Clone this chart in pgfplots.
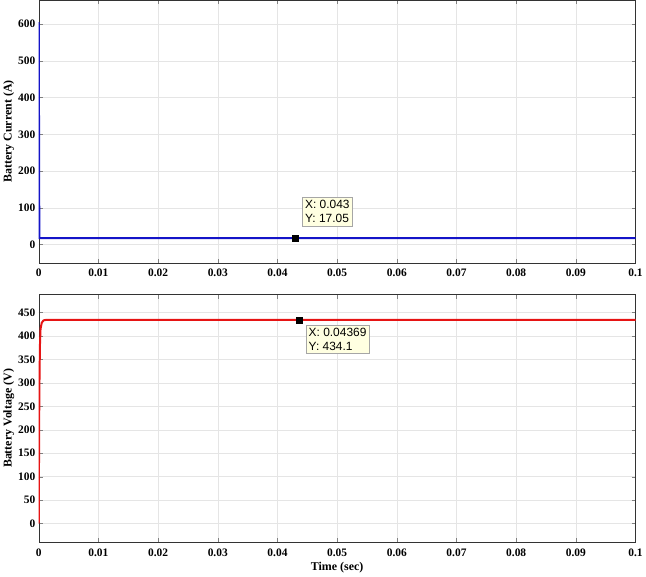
\documentclass[border=0pt]{standalone}
\usepackage{fontspec}
\setmainfont{Liberation Serif}
\newfontfamily\tipfont{Liberation Sans}
\usepackage{pgfplots}
\pgfplotsset{compat=1.18}

\definecolor{curblue}{RGB}{20,20,200}
\definecolor{voltred}{RGB}{230,20,20}
\definecolor{tipbg}{RGB}{255,255,225}

\pgfplotsset{
  panel/.style={
    scale only axis,
    width=600pt,
    xmin=0, xmax=0.1,
    xtick={0,0.01,...,0.1},
    xticklabels={0,0.01,0.02,0.03,0.04,0.05,0.06,0.07,0.08,0.09,0.1},
    tick align=inside,
    tick pos=both,
    major tick length=4pt,
    grid=major,
    grid style={gray!20},
    axis line style={black!80},
    tick label style={font=\fontsize{11.5}{13}\selectfont\bfseries},
    xticklabel style={yshift=-3pt},
    label style={font=\fontsize{12}{14}\selectfont\bfseries},
    /pgf/number format/assume math mode=true,
    ylabel shift=-3pt,
  },
}
\tikzset{
  tip/.style={draw=black!35, fill=tipbg, font=\tipfont\fontsize{12}{14}\selectfont,
    align=left, inner sep=3pt},
}

\begin{document}
\begin{tikzpicture}
\begin{axis}[panel, name=top, at={(0,0)}, anchor=north west,
  height=264pt,
  ymin=-50, ymax=665,
  ytick={0,100,...,600},
  ylabel={Battery Current (A)},
]
\addplot[curblue, line width=2pt] coordinates {
  (0,605) (0.0001,17.05) (0.02,17.05) (0.043,17.05) (0.07,17.05) (0.1,17.05)
};
\addplot[only marks, mark=square*, mark size=3pt, black] coordinates {(0.043,17.05)};
\node[tip, anchor=south west] at (axis cs:0.0441,50) {X: 0.043\\Y: 17.05};
\end{axis}

\begin{axis}[panel, at={(0,-296pt)}, anchor=north west,
  height=249pt,
  ymin=-40, ymax=488,
  ytick={0,50,...,450},
  ylabel={Battery Voltage (V)},
  xlabel={Time (sec)},
  xlabel shift=-1pt,
]
\addplot[voltred, line width=2pt] coordinates {
  (0,0) (0.00005,150) (0.0001,280) (0.0002,380) (0.0003,415) (0.0005,428)
  (0.0008,433) (0.0012,434.1) (0.02,434.1) (0.04369,434.1) (0.07,434.1) (0.1,434.1)
};
\addplot[only marks, mark=square*, mark size=3pt, black] coordinates {(0.04369,434.1)};
\node[tip, anchor=north west] at (axis cs:0.0447,424) {X: 0.04369\\Y: 434.1};
\end{axis}
\end{tikzpicture}
\end{document}
